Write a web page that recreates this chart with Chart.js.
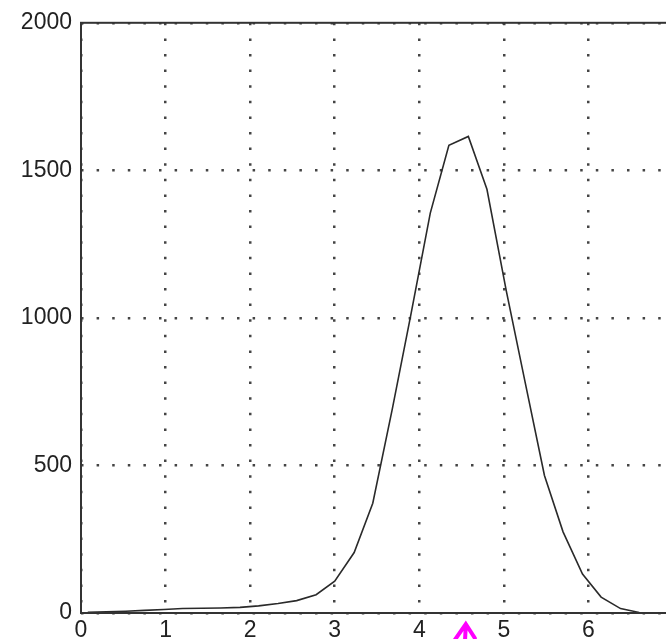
<!DOCTYPE html>
<html>
<head>
<meta charset="utf-8">
<script src="https://cdn.jsdelivr.net/npm/chart.js@4/dist/chart.umd.min.js"></script>
<style>
  html, body { margin: 0; padding: 0; overflow: hidden; background: #fff; }
  #wrap { width: 666px; height: 639px; overflow: hidden; }
</style>
</head>
<body>
<div id="wrap"><canvas id="dist-canvas" width="690" height="639"></canvas></div>
<script>
// sample positions and counts
const xs = [0.08, 0.3, 0.53, 0.75, 0.98, 1.2, 1.43, 1.65, 1.88, 2.1,
            2.33, 2.55, 2.78, 3.0, 3.23, 3.45, 3.68, 3.9, 4.13, 4.35,
            4.58, 4.8, 5.03, 5.25, 5.48, 5.7, 5.93, 6.15, 6.38, 6.6];
const counts = [2, 4, 6, 9, 12, 15, 16, 17, 19, 24,
                32, 42, 62, 108, 205, 372, 690, 1010, 1355, 1585,
                1615, 1436, 1090, 784, 466, 275, 132, 54, 15, 2];
const xTicks = [0, 1, 2, 3, 4, 5, 6, 7];
const yTicks = [0, 500, 1000, 1500, 2000];
const arrowAt = 4.55;

const points = xs.map((x, i) => ({x: x, y: counts[i]}));

// frame round the plot area + the magenta marker under the axis
const framePlugin = {
    id: 'frame',
    afterDatasetsDraw(chart) {
        const {ctx, chartArea: a} = chart;
        ctx.save();
        ctx.strokeStyle = '#333';
        ctx.lineWidth = 2;
        ctx.strokeRect(a.left, a.top, a.right - a.left, a.bottom - a.top);
        ctx.restore();
    },
    afterDraw(chart) {
        const {ctx} = chart;
        const px = chart.scales.x.getPixelForValue(arrowAt);
        const top = chart.chartArea.bottom + 11;
        ctx.save();
        ctx.strokeStyle = '#ff00ff';
        ctx.lineWidth = 4;
        ctx.lineCap = 'round';
        ctx.beginPath();
        ctx.moveTo(px - 11, top + 16);
        ctx.lineTo(px, top);
        ctx.lineTo(px + 9, top + 14);
        ctx.moveTo(px, top + 2);
        ctx.lineTo(px - 1, top + 20);
        ctx.stroke();
        ctx.restore();
    }
};

const tickFont = {family: 'Liberation Sans', size: 23};

const dist_config = {
    type: 'line',
    data: {
        datasets: [
            {
                data: points,
                borderColor: '#2a2a2a',
                borderWidth: 1.6,
                fill: false,
                tension: 0,
                pointRadius: 0
            }
        ]
    },
    options: {
        responsive: false,
        animation: false,
        layout: {
            padding: {top: 21, right: 17, bottom: 0, left: 0}
        },
        plugins: {
            legend: {display: false},
            tooltip: {enabled: false}
        },
        scales: {
            x: {
                type: 'linear',
                min: 0,
                max: 7,
                afterBuildTicks: (s) => { s.ticks = xTicks.map(v => ({value: v})); },
                afterFit: (s) => { s.height = 26; },
                grid: {color: '#444', lineWidth: 2.5, drawTicks: false},
                border: {display: false, dash: [2.5, 13.1]},
                ticks: {
                    padding: 4,
                    color: '#222',
                    font: tickFont,
                    callback: (v) => String(v)
                }
            },
            y: {
                min: 0,
                max: 2000,
                afterBuildTicks: (s) => { s.ticks = yTicks.map(v => ({value: v})); },
                afterFit: (s) => { s.width = 81; },
                grid: {color: '#444', lineWidth: 2.5, drawTicks: false},
                border: {display: false, dash: [2.5, 13.1]},
                ticks: {
                    padding: 9,
                    color: '#222',
                    font: tickFont,
                    callback: (v) => String(v)
                }
            }
        }
    },
    plugins: [framePlugin]
};

const dist_ctx = document.getElementById('dist-canvas');
let dist_chart = new Chart(dist_ctx, dist_config);
</script>
</body>
</html>
